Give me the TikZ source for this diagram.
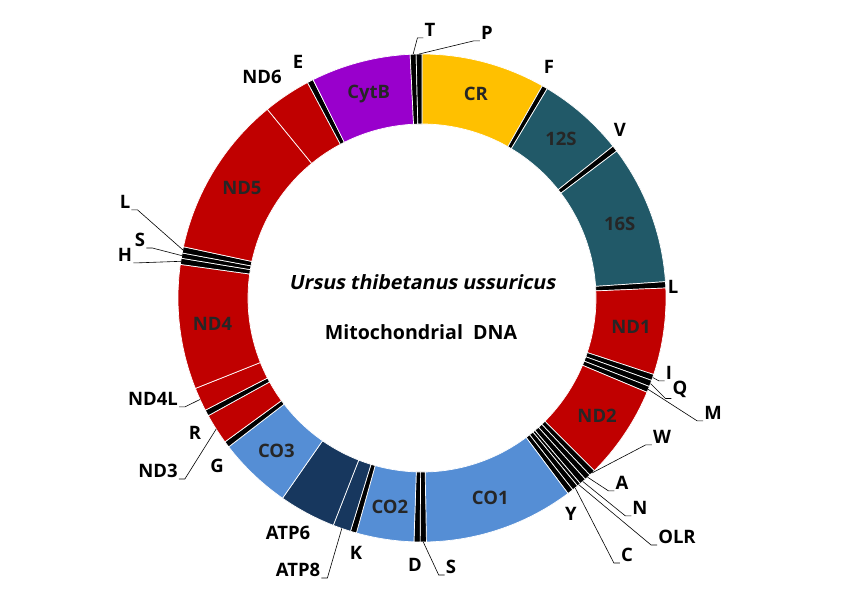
\documentclass[tikz,border=0pt]{standalone}
\usepackage{fontspec}
\setmainfont{Open Sans}
\usetikzlibrary{calc,positioning}
\definecolor{crgold}{RGB}{255,192,0}
\definecolor{rrnateal}{RGB}{33,89,104}
\definecolor{ndred}{RGB}{192,0,0}
\definecolor{coblue}{RGB}{85,142,213}
\definecolor{atpnavy}{RGB}{23,55,94}
\definecolor{cytbpurple}{RGB}{153,0,204}
\tikzset{
  ring/.style={
    draw=white,
    line width=.7pt
  },
  lbl/.style={
    font=\bfseries\fontsize{18.5}{20}\selectfont,
    inner sep=1pt
  },
  seglbl/.style={
    lbl,
    text=black!85
  },
  centre/.style={
    font=\bfseries\fontsize{19.6}{22}\selectfont,
    inner sep=1pt
  },
  leader/.style={
    draw=black,
    line width=.6pt
  }
}

\begin{document}
\begin{tikzpicture}[x=1pt,y=1pt]
\useasboundingbox (-422,-297) rectangle (420,298);
\def\Rout{244pt}
\def\Rin{174pt}
\def\bpdeg{47.039}
\def\acc{0}
% genome map, clockwise from the top
\foreach \len/\col/\id in {
  1391/crgold/CR, 62/black/F, 970/rrnateal/12S, 68/black/V,
  1562/rrnateal/16S, 70/black/L1, 970/ndred/ND1, 69/black/I,
  72/black/Q, 69/black/M, 1050/ndred/ND2, 69/black/W,
  69/black/A, 73/black/N, 40/black/OLR, 67/black/C,
  67/black/Y, 1680/coblue/CO1, 70/black/S1, 68/black/D,
  645/coblue/CO2, 68/black/K, 201/atpnavy/ATP8, 637/atpnavy/ATP6,
  825/coblue/CO3, 69/black/G, 343/ndred/ND3, 69/black/R,
  264/ndred/ND4L, 1396/ndred/ND4, 69/black/H, 59/black/S2,
  70/black/L2, 1813/ndred/ND5, 534/ndred/ND6, 69/black/E,
  1116/cytbpurple/CytB, 66/black/T, 65/black/P}{
  \pgfmathsetmacro\aa{\acc}
  \pgfmathsetmacro\bb{\acc+\len/\bpdeg}
  \pgfmathsetmacro\mm{(\aa+\bb)/2}
  \filldraw[ring,fill=\col] (90-\aa:\Rout)
    arc[start angle=90-\aa,end angle=90-\bb,radius=\Rout]
    -- (90-\bb:\Rin)
    arc[start angle=90-\bb,end angle=90-\aa,radius=\Rin] -- cycle;
  \coordinate (s-\id) at (90-\mm:\Rout);
  \coordinate (m-\id) at (90-\mm:211pt);
  \xdef\acc{\bb}
}

% names inside the ring
\foreach \id in {CR,12S,16S,ND1,ND2,CO1,CO2,CO3,ND4,ND5,CytB}
  \node[seglbl] (n-\id) at (m-\id) {\id};

% centre
\node[centre] (title) at (0,16) {\addfontfeature{FakeSlant=0.2}Ursus thibetanus ussuricus};
\node[centre] (sub) at (-1,-34) {Mitochondrial\ \ DNA};

% labels next to the ring
\node[lbl] (l-E) at (-124,236) {E};
\node[lbl] (l-ND6) at (-160,221) {ND6};
\node[lbl] (l-F) at (127,231) {F};
\node[lbl] (l-V) at (198,168) {V};
\node[lbl] (l-L1) at (251,11) {L};
\node[lbl] (l-Y) at (149,-216) {Y};
\node[lbl] (l-D) at (-7,-267) {D};
\node[lbl] (l-K) at (-66,-255) {K};
\node[lbl] (l-ATP6) at (-134,-235) {ATP6};
\node[lbl] (l-G) at (-205,-168) {G};
\node[lbl] (l-R) at (-227,-135) {R};

% labels with leaders, right side
\node[lbl] (l-T) at (8,268) {T};
\node[lbl] (l-P) at (65,265) {P};
\node[lbl] (l-I) at (247,-75) {I};
\node[lbl] (l-Q) at (258,-91) {Q};
\node[lbl] (l-M) at (291,-115) {M};
\node[lbl] (l-W) at (240,-139) {W};
\node[lbl] (l-A) at (200,-185) {A};
\node[lbl] (l-N) at (218,-210) {N};
\node[lbl] (l-OLR) at (255,-239) {OLR};
\node[lbl] (l-C) at (205,-257) {C};
\node[lbl] (l-S1) at (29,-269) {S};
\foreach \id in {T,P,I,Q,M,W,A,N,OLR,C,S1}
  \draw[leader] (s-\id) -- ([xshift=-6pt]l-\id.south west) -- (l-\id.south west);

% labels with leaders, left side
\node[lbl] (l-ATP8) at (-124,-272) {ATP8};
\node[lbl] (l-ND3) at (-264,-173) {ND3};
\node[lbl] (l-ND4L) at (-269,-101) {ND4L};
\node[lbl] (l-L2) at (-297,96) {L};
\node[lbl] (l-S2) at (-282,58) {S};
\node[lbl] (l-H) at (-297,43) {H};
\foreach \id in {ATP8,ND3,ND4L,L2,S2,H}
  \draw[leader] (s-\id) -- ([xshift=6pt]l-\id.south east) -- (l-\id.south east);
\end{tikzpicture}
\end{document}
